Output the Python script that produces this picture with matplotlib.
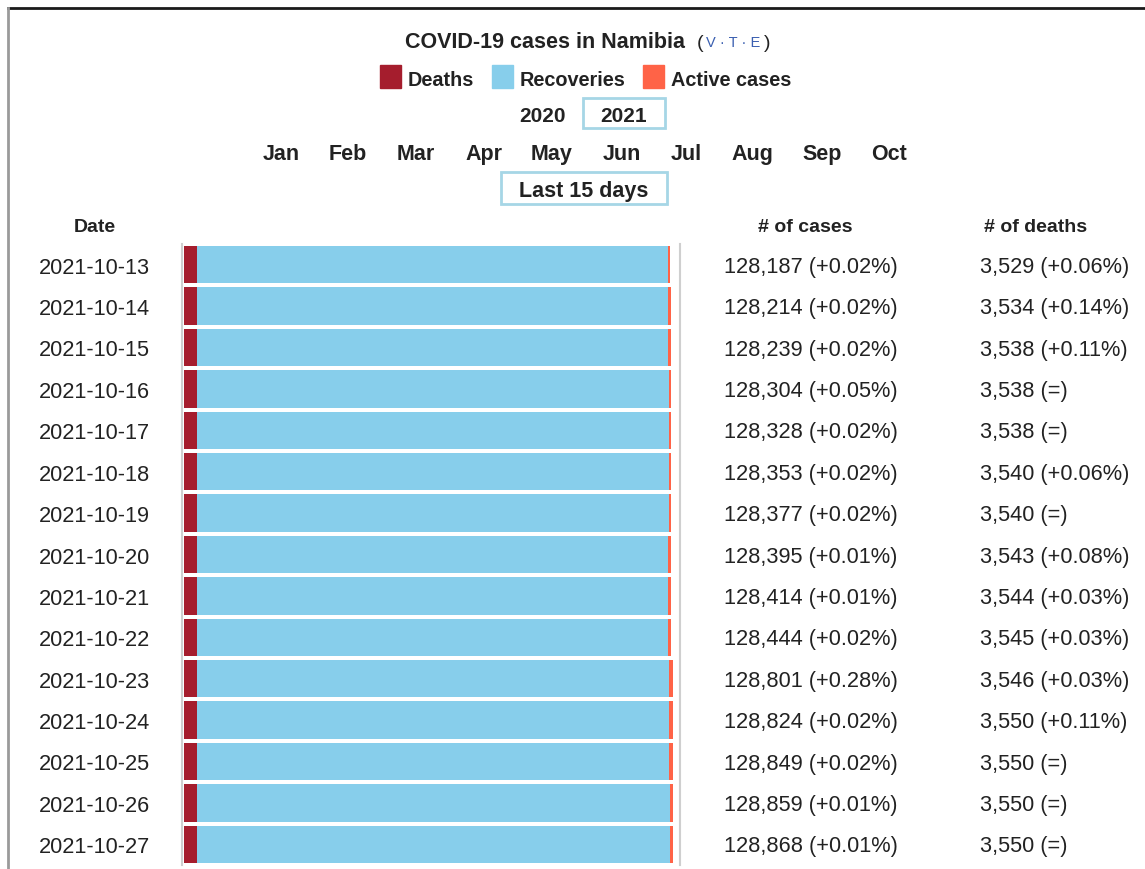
import matplotlib
matplotlib.use("Agg")
import matplotlib.pyplot as plt
from matplotlib.patches import Rectangle
from matplotlib.lines import Line2D
from matplotlib.transforms import blended_transform_factory

plt.rcParams['font.family'] = ['Liberation Sans', 'DejaVu Sans']

dates = ["2021-10-13", "2021-10-14", "2021-10-15", "2021-10-16", "2021-10-17",
         "2021-10-18", "2021-10-19", "2021-10-20", "2021-10-21", "2021-10-22",
         "2021-10-23", "2021-10-24", "2021-10-25", "2021-10-26", "2021-10-27"]
cases = [128187, 128214, 128239, 128304, 128328, 128353, 128377, 128395,
         128414, 128444, 128801, 128824, 128849, 128859, 128868]
deaths = [3529, 3534, 3538, 3538, 3538, 3540, 3540, 3543, 3544, 3545,
          3546, 3550, 3550, 3550, 3550]
# active cases
active = [600, 600, 600, 600, 600, 600, 600, 850, 850, 850,
          1100, 1100, 1100, 750, 750]
case_pct = ["+0.02%", "+0.02%", "+0.02%", "+0.05%", "+0.02%", "+0.02%", "+0.02%",
            "+0.01%", "+0.01%", "+0.02%", "+0.28%", "+0.02%", "+0.02%", "+0.01%", "+0.01%"]
death_pct = ["+0.06%", "+0.14%", "+0.11%", "=", "=", "+0.06%", "=", "+0.08%",
             "+0.03%", "+0.03%", "+0.03%", "+0.11%", "=", "=", "="]
months = ["Jan", "Feb", "Mar", "Apr", "May", "Jun", "Jul", "Aug", "Sep", "Oct"]
month_x = [281, 348, 416, 484, 552, 622, 686, 752, 822, 889]

recov = [c - d - a for c, d, a in zip(cases, deaths, active)]

c_death = "#a51d2d"
c_recov = "#87ceeb"
c_active = "#ff6347"
txt = "#222222"
boxc = "#a6d6e6"

W, H = 1145, 870
fig = plt.figure(figsize=(W / 100, H / 100), dpi=100)


def fx(px):
    return px / W


def fy(py):
    # +2 px nudges text to the reference's visual centre
    return 1 - (py + 2) / H


ax = fig.add_axes([fx(182), 1 - 866 / H, fx(680) - fx(182), (866 - 245) / H])
rows = list(range(len(dates)))
ax.barh(rows, deaths, height=0.9, color=c_death)
ax.barh(rows, recov, left=deaths, height=0.9, color=c_recov)
left2 = [d + r for d, r in zip(deaths, recov)]
ax.barh(rows, active, left=left2, height=0.9, color=c_active)
ax.set_xlim(-527, 130700)
ax.set_ylim(len(dates) - 0.5, -0.5)
ax.set_xticks([])
ax.set_yticks(rows)
ax.set_yticklabels(dates, fontsize=15.7, color=txt)
ax.tick_params(axis='y', length=0, pad=23)
for s in ["top", "bottom"]:
    ax.spines[s].set_visible(False)
for s in ["left", "right"]:
    ax.spines[s].set_color("#cfcfcf")
    ax.spines[s].set_linewidth(1.5)

tr = blended_transform_factory(fig.transFigure, ax.transData)
for i in rows:
    ax.text(fx(724), i + 0.04, f"{cases[i]:,} ({case_pct[i]})", transform=tr,
            fontsize=15.7, color=txt, va='center', ha='left')
    ax.text(fx(980), i + 0.04, f"{deaths[i]:,} ({death_pct[i]})", transform=tr,
            fontsize=15.7, color=txt, va='center', ha='left')

# header
fig.text(fx(685), fy(41), "COVID-19 cases in Namibia", fontsize=15.5,
         fontweight='bold', color=txt, ha='right', va='center')
fig.text(fx(697), fy(41), "(", fontsize=14, color=txt, ha='left', va='center')
fig.text(fx(733), fy(41), "V · T · E", fontsize=10.5, color="#3a5fb0",
         ha='center', va='center')
fig.text(fx(770), fy(41), ")", fontsize=14, color=txt, ha='right', va='center')

legend_items = [(380, c_death, "Deaths"), (492, c_recov, "Recoveries"),
                (643, c_active, "Active cases")]
for x0, col, lab in legend_items:
    fig.patches.append(Rectangle((fx(x0), 1 - 89 / H), fx(21), 23 / H,
                                 transform=fig.transFigure, color=col))
    fig.text(fx(x0 + 28), fy(78), lab, fontsize=14.3, fontweight='bold',
             color=txt, ha='left', va='center')

fig.text(fx(542), fy(114), "2020", fontsize=15, fontweight='bold', color=txt,
         ha='center', va='center')
fig.patches.append(Rectangle((fx(583), 1 - 129 / H), fx(82), 30 / H,
                             transform=fig.transFigure, fill=False,
                             edgecolor=boxc, lw=2))
fig.text(fx(624), fy(114), "2021", fontsize=15, fontweight='bold', color=txt,
         ha='center', va='center')

for m, x in zip(months, month_x):
    fig.text(fx(x), fy(153), m, fontsize=15.5, fontweight='bold', color=txt,
             ha='center', va='center')

fig.patches.append(Rectangle((fx(501), 1 - 205 / H), fx(166), 32 / H,
                             transform=fig.transFigure, fill=False,
                             edgecolor=boxc, lw=2))
fig.text(fx(584), fy(189), "Last 15 days", fontsize=15.5, fontweight='bold',
         color=txt, ha='center', va='center')

fig.text(fx(95), fy(226), "Date", fontsize=14, fontweight='bold', color=txt,
         ha='center', va='center')
fig.text(fx(805), fy(226), "# of cases", fontsize=14, fontweight='bold',
         color=txt, ha='center', va='center')
fig.text(fx(1036), fy(226), "# of deaths", fontsize=14, fontweight='bold',
         color=txt, ha='center', va='center')

# frame
fig.lines.append(Line2D([fx(8), 1], [1 - 9 / H, 1 - 9 / H], transform=fig.transFigure,
                        color="#1a1a1a", lw=2))
fig.lines.append(Line2D([fx(8), fx(8)], [1 - 9 / H, 0], transform=fig.transFigure,
                        color="#9a9a9a", lw=2))

fig.savefig("out.png", dpi=100, facecolor="white")
